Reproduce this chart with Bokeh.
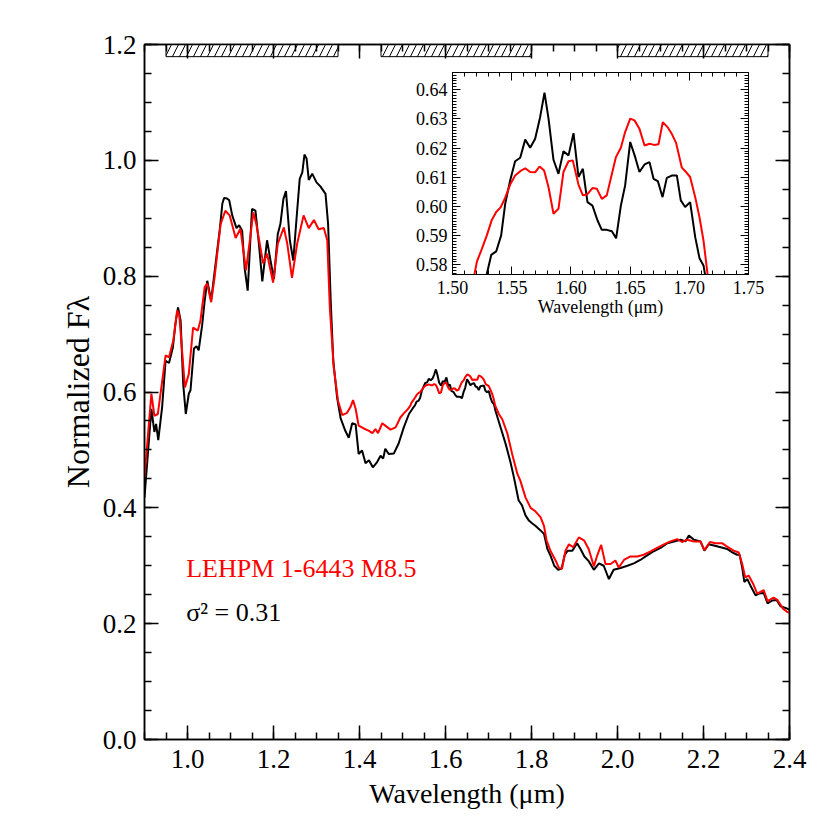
import numpy as np
from bokeh.plotting import figure
from bokeh.models import (FixedTicker, NumeralTickFormatter, CustomJSTickFormatter,
                          LinearAxis)
from bokeh.core.properties import value
from bokeh.layouts import column
from bokeh.embed import file_html
from bokeh.resources import INLINE

# ---------------- data ----------------
WL_BLACK = [0.900, 0.916, 0.923, 0.927, 0.932, 0.941, 0.949, 0.957, 0.966, 0.972,
            0.978, 0.984, 0.990, 0.996, 1.003, 1.007, 1.015, 1.021, 1.026, 1.034,
            1.040, 1.046, 1.055, 1.061, 1.069, 1.075, 1.081, 1.085, 1.092, 1.097,
            1.104, 1.114, 1.120, 1.127, 1.133, 1.140, 1.150, 1.158, 1.166, 1.174,
            1.185, 1.193, 1.201, 1.210, 1.216, 1.223, 1.229, 1.238, 1.246, 1.255,
            1.261, 1.267, 1.272, 1.277, 1.282, 1.290, 1.300, 1.309, 1.321, 1.327,
            1.333, 1.339, 1.348, 1.356, 1.367, 1.375, 1.383, 1.391, 1.398, 1.406,
            1.414, 1.422, 1.431, 1.441, 1.449, 1.455, 1.460, 1.468, 1.480, 1.491,
            1.503, 1.515, 1.524,
            1.5290, 1.5327, 1.5369, 1.5411, 1.5445, 1.5487, 1.5529, 1.5572, 1.5614, 1.5656,
            1.5698, 1.5740, 1.5777, 1.5811, 1.5853, 1.5895, 1.5937, 1.5980, 1.6022, 1.6064,
            1.6101, 1.6140, 1.6182, 1.6225, 1.6261, 1.6303, 1.6346, 1.6382, 1.6422, 1.6458,
            1.6501, 1.6543, 1.6579, 1.6622, 1.6664, 1.6698, 1.6734, 1.6774, 1.6810, 1.6852,
            1.6895, 1.6928, 1.6965, 1.7007, 1.7050, 1.7086, 1.7120, 1.7137,
            1.716, 1.728, 1.740, 1.751, 1.759, 1.770, 1.778, 1.786, 1.794, 1.802,
            1.809, 1.821, 1.829, 1.837, 1.844, 1.853, 1.862, 1.870, 1.877, 1.884,
            1.895, 1.906, 1.914, 1.923, 1.933, 1.945, 1.957, 1.968, 1.980, 1.991,
            2.007, 2.023, 2.038, 2.053, 2.069, 2.084, 2.100, 2.116, 2.131, 2.147,
            2.158, 2.166, 2.178, 2.193, 2.202, 2.212, 2.224, 2.240, 2.255, 2.267,
            2.278, 2.284, 2.290, 2.295, 2.302, 2.309, 2.321, 2.329, 2.340, 2.349,
            2.360, 2.370, 2.379, 2.395, 2.400]
FLUX_BLACK = [0.418, 0.571, 0.531, 0.545, 0.517, 0.574, 0.654, 0.650, 0.677, 0.718,
              0.746, 0.723, 0.614, 0.562, 0.597, 0.603, 0.675, 0.679, 0.672, 0.715,
              0.758, 0.792, 0.758, 0.795, 0.844, 0.880, 0.925, 0.935, 0.934, 0.931,
              0.905, 0.883, 0.888, 0.879, 0.813, 0.775, 0.916, 0.913, 0.856, 0.791,
              0.862, 0.827, 0.795, 0.873, 0.890, 0.933, 0.947, 0.862, 0.827, 0.913,
              0.968, 0.979, 1.010, 1.003, 0.966, 0.977, 0.962, 0.955, 0.942, 0.890,
              0.758, 0.654, 0.590, 0.555, 0.533, 0.521, 0.546, 0.544, 0.493, 0.499,
              0.477, 0.482, 0.470, 0.479, 0.490, 0.485, 0.502, 0.493, 0.494, 0.511,
              0.539, 0.562, 0.572,
              0.5769, 0.5834, 0.5846, 0.5901, 0.6009, 0.6089, 0.6155, 0.6167, 0.6229, 0.6201,
              0.6232, 0.6306, 0.6390, 0.6301, 0.6160, 0.6112, 0.6189, 0.6175, 0.6251, 0.6101,
              0.6129, 0.6015, 0.6003, 0.5952, 0.5920, 0.5920, 0.5915, 0.5891, 0.6003, 0.6072,
              0.6221, 0.6169, 0.6118, 0.6144, 0.6152, 0.6095, 0.6087, 0.6032, 0.6098, 0.6106,
              0.6106, 0.6021, 0.5998, 0.6015, 0.5895, 0.5823, 0.5798, 0.5758,
              0.568, 0.539, 0.510, 0.479, 0.453, 0.413, 0.404, 0.387, 0.378, 0.373,
              0.369, 0.361, 0.355, 0.329, 0.318, 0.300, 0.293, 0.295, 0.318, 0.326,
              0.326, 0.339, 0.329, 0.316, 0.308, 0.293, 0.304, 0.300, 0.277, 0.293,
              0.296, 0.300, 0.304, 0.310, 0.318, 0.325, 0.331, 0.339, 0.342, 0.345,
              0.342, 0.352, 0.345, 0.342, 0.326, 0.337, 0.335, 0.332, 0.329, 0.323,
              0.319, 0.319, 0.297, 0.272, 0.277, 0.266, 0.249, 0.252, 0.253, 0.235,
              0.240, 0.241, 0.230, 0.226, 0.224]

WL_RED = [0.900, 0.916, 0.923, 0.931, 0.949, 0.957, 0.967, 0.976, 0.981, 0.994,
          1.003, 1.013, 1.024, 1.030, 1.040, 1.046, 1.055, 1.063, 1.070, 1.077,
          1.088, 1.098, 1.112, 1.123, 1.136, 1.145, 1.153, 1.160, 1.176, 1.185,
          1.199, 1.210, 1.224, 1.232, 1.243, 1.255, 1.270, 1.282, 1.294, 1.305,
          1.317, 1.325, 1.331, 1.340, 1.350, 1.360, 1.371, 1.379, 1.385, 1.391,
          1.398, 1.410, 1.422, 1.430, 1.437, 1.443, 1.453, 1.460, 1.472, 1.484,
          1.495, 1.503, 1.512,
          1.5186, 1.5206, 1.5248, 1.5290, 1.5332, 1.5369, 1.5408, 1.5445, 1.5487, 1.5529,
          1.5572, 1.5614, 1.5656, 1.5698, 1.5735, 1.5774, 1.5811, 1.5853, 1.5895, 1.5937,
          1.5980, 1.6016, 1.6064, 1.6101, 1.6140, 1.6182, 1.6219, 1.6261, 1.6303, 1.6340,
          1.6380, 1.6422, 1.6458, 1.6501, 1.6537, 1.6579, 1.6622, 1.6664, 1.6703, 1.6740,
          1.6776, 1.6816, 1.6852, 1.6889, 1.6937, 1.6973, 1.7007, 1.7050, 1.7086, 1.7120,
          1.7154,
          1.724, 1.732, 1.744, 1.755, 1.767, 1.774, 1.786, 1.798, 1.809, 1.821,
          1.829, 1.835, 1.844, 1.856, 1.864, 1.871, 1.879, 1.887, 1.897, 1.910,
          1.922, 1.933, 1.945, 1.953, 1.962, 1.972, 1.984, 1.995, 2.003, 2.015,
          2.030, 2.046, 2.061, 2.077, 2.092, 2.108, 2.123, 2.139, 2.150, 2.162,
          2.178, 2.193, 2.202, 2.215, 2.228, 2.243, 2.255, 2.270, 2.282, 2.290,
          2.297, 2.305, 2.316, 2.325, 2.340, 2.349, 2.363, 2.372, 2.385, 2.395,
          2.400]
FLUX_RED = [0.453, 0.597, 0.559, 0.562, 0.663, 0.660, 0.689, 0.741, 0.732, 0.608,
            0.631, 0.711, 0.706, 0.723, 0.781, 0.787, 0.755, 0.798, 0.844, 0.890,
            0.913, 0.905, 0.866, 0.882, 0.810, 0.862, 0.910, 0.890, 0.822, 0.839,
            0.789, 0.856, 0.884, 0.856, 0.797, 0.856, 0.905, 0.883, 0.897, 0.881,
            0.883, 0.862, 0.746, 0.643, 0.585, 0.560, 0.564, 0.574, 0.586, 0.571,
            0.542, 0.537, 0.533, 0.529, 0.536, 0.529, 0.546, 0.542, 0.535, 0.539,
            0.556, 0.563, 0.570,
            0.5769, 0.5811, 0.5855, 0.5901, 0.5954, 0.5981, 0.5998, 0.6030, 0.6075, 0.6106,
            0.6121, 0.6131, 0.6118, 0.6117, 0.6137, 0.6123, 0.6066, 0.5975, 0.5992, 0.6118,
            0.6155, 0.6158, 0.6075, 0.6038, 0.6042, 0.6063, 0.6061, 0.6026, 0.6038, 0.6101,
            0.6169, 0.6201, 0.6255, 0.6301, 0.6295, 0.6266, 0.6209, 0.6215, 0.6211, 0.6213,
            0.6289, 0.6272, 0.6249, 0.6217, 0.6133, 0.6118, 0.6101, 0.6032, 0.5963, 0.5883,
            0.5769,
            0.562, 0.553, 0.528, 0.493, 0.459, 0.447, 0.418, 0.400, 0.394, 0.384,
            0.369, 0.344, 0.326, 0.309, 0.296, 0.295, 0.326, 0.337, 0.332, 0.349,
            0.344, 0.329, 0.299, 0.318, 0.336, 0.303, 0.303, 0.309, 0.297, 0.310,
            0.316, 0.316, 0.319, 0.325, 0.331, 0.337, 0.342, 0.346, 0.341, 0.345,
            0.342, 0.342, 0.327, 0.341, 0.339, 0.339, 0.333, 0.326, 0.323, 0.303,
            0.280, 0.283, 0.268, 0.252, 0.258, 0.239, 0.245, 0.241, 0.226, 0.220,
            0.219]

BAND_START = [0.95, 1.45, 2.00]
BAND_END = [1.35, 1.80, 2.35]

X_TICKS = [1.0, 1.2, 1.4, 1.6, 1.8, 2.0, 2.2, 2.4]
Y_TICKS = [0.0, 0.2, 0.4, 0.6, 0.8, 1.0, 1.2]
INSET_X_TICKS = [1.50, 1.55, 1.60, 1.65, 1.70, 1.75]
INSET_Y_TICKS = [0.58, 0.59, 0.60, 0.61, 0.62, 0.63, 0.64]

MODEL_NAME = "LEHPM 1-6443 M8.5"
FIT_TEXT = "σ² = 0.31"
X_TITLE = "Wavelength (μm)"
Y_TITLE = "Normalized Fλ"

SERIF = "'Liberation Serif', serif"

# ---------------- main figure ----------------
x_minor = [round(v, 3) for v in np.arange(0.9, 2.4001, 0.05)]
y_minor = [round(v, 3) for v in np.arange(0.0, 1.2001, 0.05)]

p = figure(width=822, height=822, x_range=(0.9, 2.4), y_range=(0.0, 1.2),
           output_backend="svg", toolbar_location=None,
           min_border_left=144, min_border_right=33, min_border_top=44, min_border_bottom=83)
p.grid.visible = False
p.outline_line_color = "black"
p.outline_line_width = 1.5
p.background_fill_alpha = 0
p.border_fill_alpha = 0

xt = FixedTicker(ticks=X_TICKS, minor_ticks=x_minor)
yt = FixedTicker(ticks=Y_TICKS, minor_ticks=y_minor)


def style_axis(ax, ticker, major, minor, lw, fsize):
    ax.ticker = ticker
    ax.axis_line_color = "black"
    ax.axis_line_width = lw
    ax.major_tick_line_color = "black"
    ax.minor_tick_line_color = "black"
    ax.major_tick_line_width = lw
    ax.minor_tick_line_width = lw
    ax.major_tick_in = major
    ax.major_tick_out = 0
    ax.minor_tick_in = minor
    ax.minor_tick_out = 0
    ax.major_label_text_font = SERIF
    ax.major_label_text_font_size = fsize
    ax.major_label_text_color = "black"
    ax.axis_label_text_font = SERIF
    ax.axis_label_text_font_style = "normal"
    ax.axis_label_text_color = "black"


style_axis(p.xaxis[0], xt, 14, 7, 1.5, "27px")
p.xaxis[0].formatter = NumeralTickFormatter(format="0.0")
p.xaxis[0].major_label_standoff = 10
p.xaxis[0].axis_label = X_TITLE
p.xaxis[0].axis_label_text_font_size = "28px"
p.xaxis[0].axis_label_standoff = 7

style_axis(p.yaxis[0], yt, 14, 7, 1.5, "27px")
p.yaxis[0].formatter = NumeralTickFormatter(format="0.0")
p.yaxis[0].major_label_standoff = 8
p.yaxis[0].axis_label = Y_TITLE
p.yaxis[0].axis_label_text_font_size = "32px"
p.yaxis[0].axis_label_standoff = 4

empty = CustomJSTickFormatter(code="return ''")
top_ax = LinearAxis(formatter=empty, major_label_standoff=0)
style_axis(top_ax, xt, 14, 7, 1.5, "1px")
p.add_layout(top_ax, "above")
right_ax = LinearAxis(formatter=empty, major_label_standoff=0)
style_axis(right_ax, yt, 14, 7, 1.5, "1px")
p.add_layout(right_ax, "right")

# hatched band markers along the top edge
p.quad(left=BAND_START, right=BAND_END, top=1.2, bottom=1.2 - 0.021,
       fill_color="white", line_color="black", line_width=1,
       hatch_pattern="/", hatch_color="black", hatch_scale=14, hatch_weight=1)

p.line(WL_BLACK, FLUX_BLACK, line_color="black", line_width=2)
p.line(WL_RED, FLUX_RED, line_color="red", line_width=2)

# legend texts as text glyphs
p.text(x=[0.997], y=[0.295], text=[MODEL_NAME], text_color="red",
       text_font=value("Liberation Serif"), text_font_size="26px", text_baseline="middle")
p.text(x=[0.997], y=[0.219], text=[FIT_TEXT], text_color="black",
       text_font=value("Liberation Serif"), text_font_size="26px", text_baseline="middle")

# ---------------- inset figure ----------------
ix_minor = [round(v, 3) for v in np.arange(1.50, 1.7501, 0.01)]
iy_minor = [round(v, 4) for v in np.arange(0.577, 0.6461, 0.001)]
ixt = FixedTicker(ticks=INSET_X_TICKS, minor_ticks=ix_minor)
iyt = FixedTicker(ticks=INSET_Y_TICKS, minor_ticks=iy_minor)

# frames of plots in a column are aligned horizontally, so the inset shares
# the main plot's left/right borders (144 / 33)
pin = figure(width=473, height=282, x_range=(1.50, 1.75), y_range=(0.5767, 0.6459),
             output_backend="svg", toolbar_location=None,
             min_border_left=144, min_border_right=33, min_border_top=20, min_border_bottom=60)
pin.grid.visible = False
pin.outline_line_color = "black"
pin.outline_line_width = 1
pin.border_fill_alpha = 0
style_axis(pin.xaxis[0], ixt, 8, 4, 1, "18px")
pin.xaxis[0].formatter = NumeralTickFormatter(format="0.00")
pin.xaxis[0].major_label_standoff = 6
pin.xaxis[0].axis_label = X_TITLE
pin.xaxis[0].axis_label_text_font_size = "18px"
pin.xaxis[0].axis_label_standoff = 0
style_axis(pin.yaxis[0], iyt, 8, 4, 1, "18px")
pin.yaxis[0].formatter = NumeralTickFormatter(format="0.00")
pin.yaxis[0].major_label_standoff = 5

itop = LinearAxis(formatter=empty, major_label_standoff=0)
style_axis(itop, ixt, 8, 4, 1, "1px")
pin.add_layout(itop, "above")
iright = LinearAxis(formatter=empty, major_label_standoff=0)
style_axis(iright, iyt, 8, 4, 1, "1px")
pin.add_layout(iright, "right")

pin.line(WL_BLACK, FLUX_BLACK, line_color="black", line_width=2)
pin.line(WL_RED, FLUX_RED, line_color="red", line_width=2)

# inset sits under the transparent main plot through a negative bottom margin
pin.margin = (52, 0, -334, 308)
p.margin = (0, 0, 0, 0)

layout = column(pin, p)
open("out.html", "w").write(file_html(layout, INLINE))
